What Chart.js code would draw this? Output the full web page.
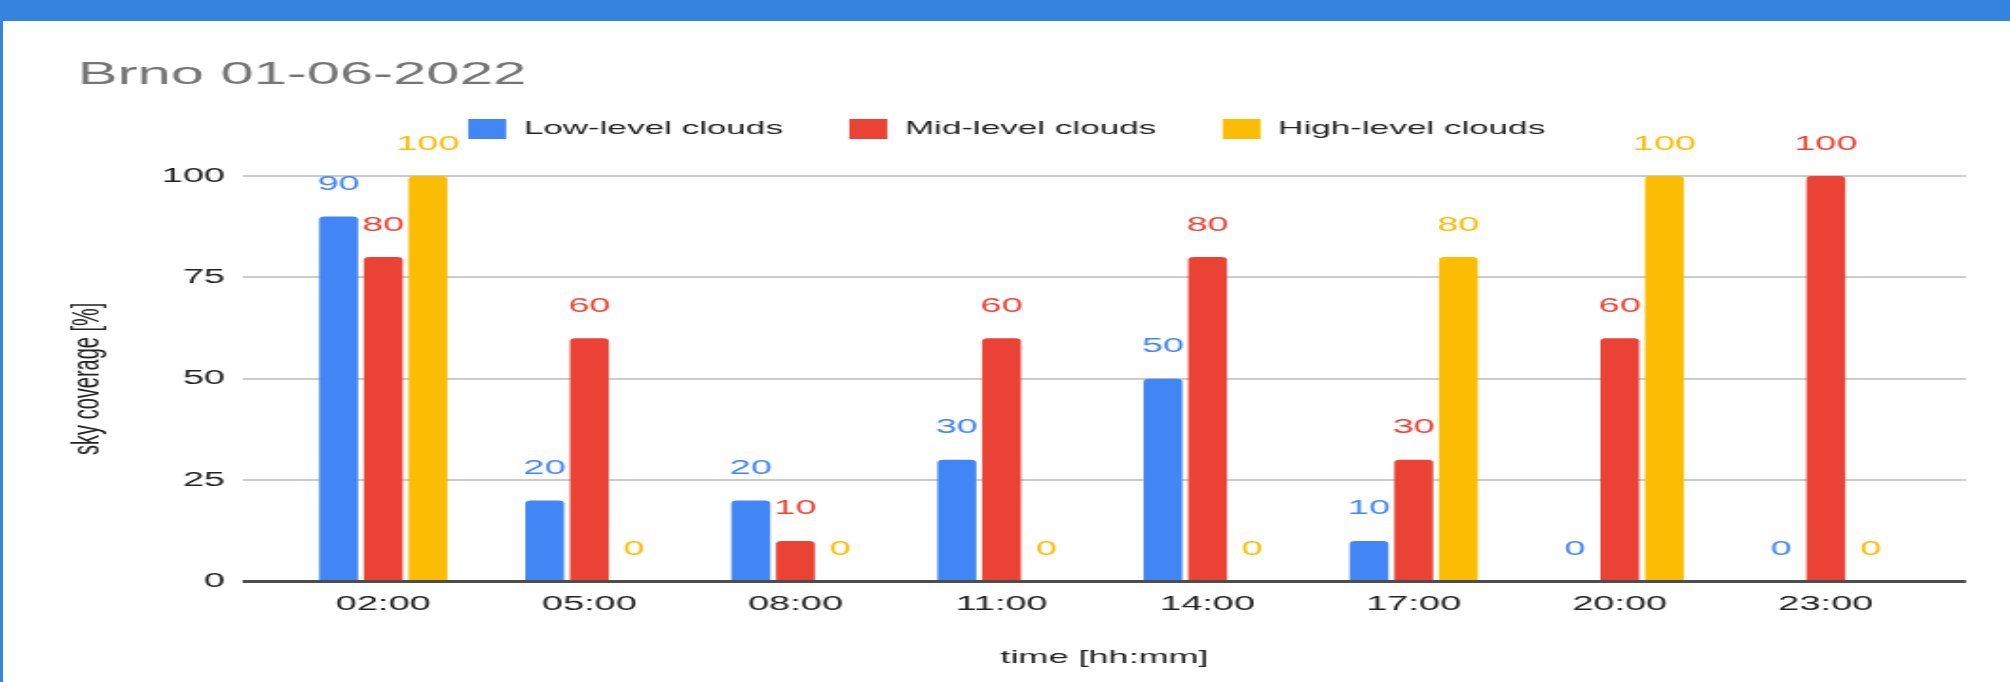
<!DOCTYPE html>
<html>
<head>
<meta charset="utf-8">
<title>Brno 01-06-2022</title>
<script src="https://cdn.jsdelivr.net/npm/chart.js@4.4.1/dist/chart.umd.min.js"></script>
<style>
  html, body { margin: 0; padding: 0; background: #fff; overflow: hidden; }
  #frame { position: relative; width: 2010px; height: 682px; overflow: hidden; background: #fff; }
  #topbar { position: absolute; left: 0; top: 0; width: 2010px; height: 21px; background: #3584e0; z-index: 2; }
  #leftbar { position: absolute; left: 0; top: 0; width: 3px; height: 682px; background: #3584e0; z-index: 2; }
  /* the chart is laid out narrow and widened to the full page width */
  #wrap { position: absolute; left: 0; top: 0; width: 1060px; height: 682px;
          transform: scaleX(1.8962); transform-origin: 0 0; }
</style>
</head>
<body>
<div id="frame">
  <div id="wrap"><canvas id="chart"></canvas></div>
  <div id="topbar"></div>
  <div id="leftbar"></div>
</div>
<script>
// Cloud cover by level, Brno, 1 June 2022
const times = ['02:00', '05:00', '08:00', '11:00', '14:00', '17:00', '20:00', '23:00'];
const lowClouds  = [90, 20, 20, 30, 50, 10, 0, 0];
const midClouds  = [80, 60, 10, 60, 80, 30, 60, 100];
const highClouds = [100, 0, 0, 0, 0, 80, 100, 0];
const yTicks = [0, 25, 50, 75, 100];

const FONT = "'Liberation Sans', Arial, Helvetica, sans-serif";
const BLUE = '#4285f4', RED = '#ea4335', YELLOW = '#fbbc04';

const toPoints = arr => arr.map((v, i) => ({ x: i, y: v }));

// value written above every bar, in the bar's colour
const valueLabels = {
  id: 'valueLabels',
  afterDatasetsDraw(chart) {
    const ctx = chart.ctx;
    ctx.save();
    ctx.font = '20px ' + FONT;
    ctx.textAlign = 'center';
    ctx.textBaseline = 'middle';
    chart.data.datasets.forEach((ds, di) => {
      const meta = chart.getDatasetMeta(di);
      ctx.fillStyle = ds.backgroundColor;
      meta.data.forEach((bar, i) => {
        ctx.fillText(String(ds.data[i].y), bar.x, bar.y - 32);
      });
    });
    ctx.restore();
  }
};

// centre the legend row on the whole canvas rather than on the padded box
const legendShift = {
  id: 'legendShift',
  afterLayout(chart) {
    const lg = chart.legend;
    if (!lg) return;
    lg.left -= 8;
    lg.right -= 8;
  }
};

const barStyle = {
  xAxisID: 'x',
  yAxisID: 'y',
  borderWidth: 0,
  borderRadius: { topLeft: 3, topRight: 3, bottomLeft: 0, bottomRight: 0 },
  borderSkipped: 'start',
  categoryPercentage: 0.65,
  barPercentage: 0.87
};

new Chart(document.getElementById('chart'), {
  type: 'bar',
  data: {
    datasets: [
      Object.assign({ label: 'Low-level clouds',  data: toPoints(lowClouds),  backgroundColor: BLUE }, barStyle),
      Object.assign({ label: 'Mid-level clouds',  data: toPoints(midClouds),  backgroundColor: RED }, barStyle),
      Object.assign({ label: 'High-level clouds', data: toPoints(highClouds), backgroundColor: YELLOW }, barStyle)
    ]
  },
  plugins: [valueLabels, legendShift],
  options: {
    responsive: true,
    maintainAspectRatio: false,
    animation: false,
    devicePixelRatio: 1,
    layout: { padding: { left: 41, right: 23.2, top: 0, bottom: 0 } },
    plugins: {
      title: {
        display: true,
        text: 'Brno 01-06-2022',
        align: 'start',
        color: '#757575',
        font: { family: FONT, size: 31.5, weight: 'normal' },
        padding: { top: 56.7, bottom: -10.5 }
      },
      legend: {
        display: true,
        position: 'top',
        align: 'center',
        labels: {
          color: '#222222',
          font: { family: FONT, size: 18.5 },
          boxWidth: 20,
          boxHeight: 20,
          padding: 35
        }
      },
      tooltip: { enabled: false }
    },
    scales: {
      x: {
        type: 'linear',
        position: 'bottom',
        offset: false,
        min: -0.68,
        max: 7.68,
        grid: { display: false, drawTicks: false, offset: false },
        border: { display: false },
        afterBuildTicks: s => { s.ticks = times.map((t, i) => ({ value: i })); },
        ticks: {
          autoSkip: false,
          maxRotation: 0,
          padding: 11,
          color: '#222222',
          font: { family: FONT, size: 20 },
          callback: v => times[Math.round(v)]
        },
        title: {
          display: true,
          text: 'time [hh:mm]',
          color: '#222222',
          font: { family: FONT, size: 19 },
          padding: { top: 18.8, bottom: 12.9 }
        }
      },
      y: {
        type: 'linear',
        min: 0,
        max: 100,
        afterFit: s => { s.width = 87.2; },
        afterBuildTicks: s => { s.ticks = yTicks.map(v => ({ value: v })); },
        grid: {
          drawTicks: false,
          color: c => (c.tick && c.tick.value === 0 ? '#4d4d4d' : '#cccccc'),
          lineWidth: c => (c.tick && c.tick.value === 0 ? 3 : 2)
        },
        border: { display: false },
        ticks: {
          padding: 9.5,
          color: '#222222',
          font: { family: FONT, size: 20 }
        },
        title: {
          display: true,
          text: 'sky coverage [%]',
          color: '#222222',
          font: { family: FONT, size: 20 },
          padding: { top: -7, bottom: 0 }
        }
      },
      // empty band between the legend and the plot
      gap: {
        axis: 'x',
        type: 'linear',
        position: 'top',
        display: true,
        grid: { display: false, drawTicks: false },
        border: { display: false },
        ticks: { display: false },
        afterFit: s => { s.height = 27; }
      }
    }
  }
});
</script>
</body>
</html>
